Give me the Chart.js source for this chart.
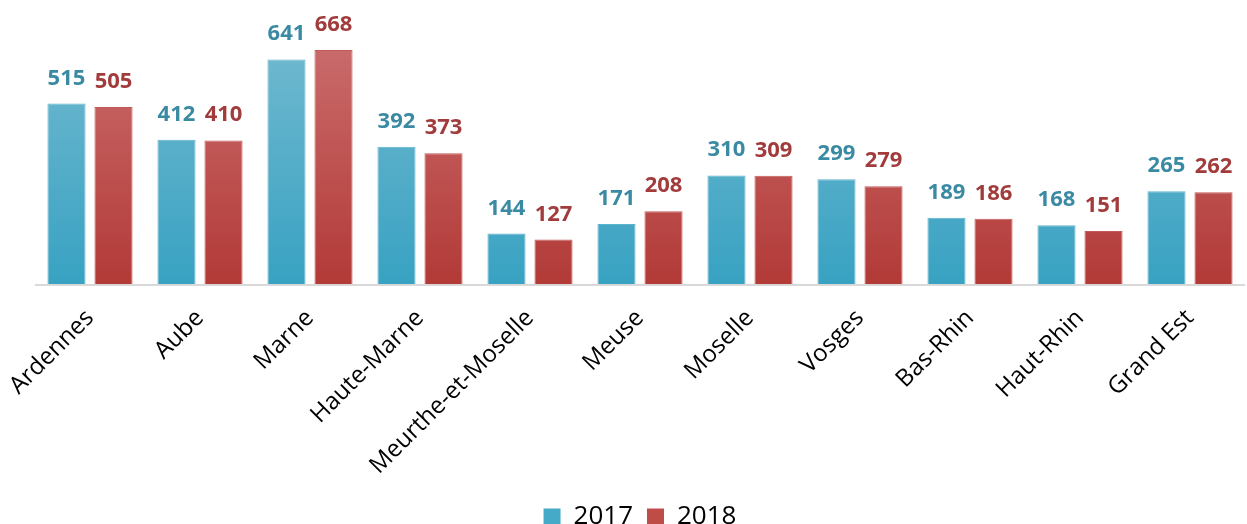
<!DOCTYPE html>
<html>
<head>
<meta charset="utf-8">
<script src="https://cdn.jsdelivr.net/npm/chart.js@4"></script>
<style>
  html, body { margin: 0; padding: 0; background: #fff; }
  #wrap { width: 1247px; height: 524px; }
</style>
</head>
<body>
<div id="wrap"><canvas id="chart"></canvas></div>
<script>
const categories = ['Ardennes', 'Aube', 'Marne', 'Haute-Marne', 'Meurthe-et-Moselle', 'Meuse',
  'Moselle', 'Vosges', 'Bas-Rhin', 'Haut-Rhin', 'Grand Est'];
const values2017 = [515, 412, 641, 392, 144, 171, 310, 299, 189, 168, 265];
const values2018 = [505, 410, 668, 373, 127, 208, 309, 279, 186, 151, 262];
const seriesNames = ['2017', '2018'];

const FONT = "'Open Sans', sans-serif";

// vertical gradient for bars, lighter at the top
function grad(ctx, top, bottom) {
  const chart = ctx.chart;
  const area = chart.chartArea;
  if (!area) return bottom;
  const g = chart.ctx.createLinearGradient(0, area.top, 0, area.bottom);
  g.addColorStop(0, top);
  g.addColorStop(1, bottom);
  return g;
}

const valueLabels = {
  id: 'valueLabels',
  afterDatasetsDraw(chart) {
    const ctx = chart.ctx;
    ctx.save();
    ctx.font = 'bold 22px ' + FONT;
    ctx.textAlign = 'center';
    ctx.textBaseline = 'alphabetic';
    chart.data.datasets.forEach((ds, i) => {
      ctx.fillStyle = ds.labelColor;
      chart.getDatasetMeta(i).data.forEach((bar, j) => {
        ctx.fillText(ds.data[j], bar.x, bar.y - 19);
      });
    });
    ctx.restore();
  }
};

const baseLine = {
  id: 'baseLine',
  afterDatasetsDraw(chart) {
    const a = chart.chartArea;
    const ctx = chart.ctx;
    ctx.save();
    ctx.strokeStyle = '#d9d9d9';
    ctx.lineWidth = 2;
    ctx.beginPath();
    ctx.moveTo(a.left, a.bottom + 1);
    ctx.lineTo(a.right, a.bottom + 1);
    ctx.stroke();
    ctx.restore();
  }
};

new Chart(document.getElementById('chart'), {
  type: 'bar',
  data: {
    labels: categories,
    datasets: [{
      label: seriesNames[0],
      data: values2017,
      backgroundColor: ctx => grad(ctx, '#6fb8cf', '#38a2c2'),
      borderColor: '#5cb3cc',
      borderWidth: 1,
      labelColor: '#3a8aa3'
    }, {
      label: seriesNames[1],
      data: values2018,
      backgroundColor: ctx => grad(ctx, '#c96a6a', '#b23a37'),
      borderColor: '#c45a58',
      borderWidth: 1,
      labelColor: '#a23c3c'
    }]
  },
  options: {
    responsive: true,
    maintainAspectRatio: false,
    animation: false,
    layout: { padding: { left: 35, right: 2, top: 50, bottom: -16 } },
    datasets: { bar: { categoryPercentage: 0.855, barPercentage: 0.81 } },
    scales: {
      x: {
        grid: { display: false },
        border: { display: false },
        afterFit(scale) { scale.height = 206; },
        ticks: {
          color: '#000',
          font: { family: FONT, size: 24 },
          maxRotation: 45,
          minRotation: 45,
          padding: 12
        }
      },
      y: {
        display: false,
        min: 0,
        max: 668
      }
    },
    plugins: {
      legend: {
        position: 'bottom',
        labels: {
          color: '#000',
          font: { family: FONT, size: 26 },
          boxWidth: 17,
          boxHeight: 17,
          padding: 14,
          generateLabels(chart) {
            const cols = ['#45aac7', '#c04c4a'];
            return chart.data.datasets.map((ds, i) => ({
              text: ds.label,
              fillStyle: cols[i],
              strokeStyle: cols[i],
              lineWidth: 0,
              datasetIndex: i
            }));
          }
        }
      },
      tooltip: { enabled: false }
    }
  },
  plugins: [valueLabels, baseLine]
});
</script>
</body>
</html>
